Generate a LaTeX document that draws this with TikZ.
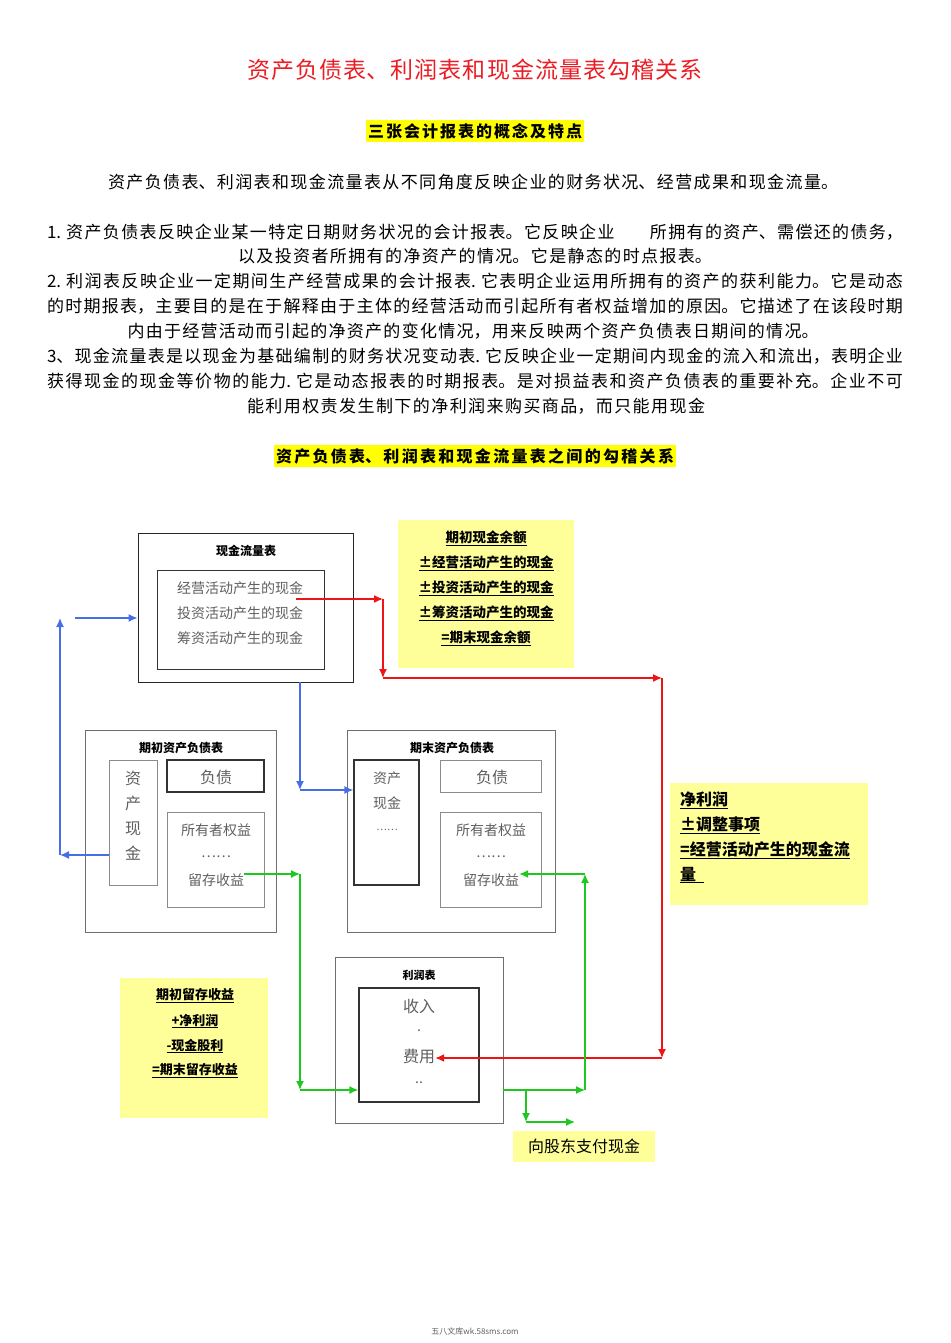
\documentclass[tikz,border=0pt]{standalone}
\usepackage{fontspec}
\setmainfont{Noto Sans CJK SC}
\usetikzlibrary{arrows.meta,positioning}
\XeTeXlinebreaklocale "zh"
\XeTeXlinebreakskip=0pt plus 1fil

\definecolor{titlered}{RGB}{236,28,36}
\definecolor{hiyellow}{RGB}{255,255,0}
\definecolor{paleyellow}{RGB}{255,255,153}
\definecolor{arrred}{RGB}{238,20,20}
\definecolor{arrblue}{RGB}{70,110,230}
\definecolor{arrgreen}{RGB}{30,200,30}
\definecolor{boxgray}{RGB}{110,110,110}
\definecolor{textgray}{RGB}{95,95,95}

% one line of text, spread to a given width
\newcommand{\spreadline}[2]{\parbox{#1}{\parfillskip=0pt\relax\noindent #2}}
\newcommand{\fullline}[1]{\spreadline{856pt}{#1}}

\tikzset{
  bodytext/.style={inner sep=0pt, font=\fontsize{17}{17}\selectfont},
  headmark/.style={fill=hiyellow, inner xsep=2pt, inner ysep=3pt, font=\fontsize{16}{16}\selectfont\bfseries},
  outerbox/.style={draw=boxgray, line width=0.8pt, inner sep=0pt},
  innerbox/.style={draw=black!80, line width=1.2pt, inner sep=0pt},
  lightbox/.style={draw=boxgray!80, line width=0.8pt, inner sep=0pt},
  notebox/.style={fill=paleyellow, inner sep=0pt},
  boxtitle/.style={inner sep=0pt, font=\fontsize{12}{12}\selectfont\bfseries},
  graytext/.style={inner sep=0pt, text=textgray, font=\fontsize{14}{14}\selectfont},
  notetext/.style={inner sep=0pt, font=\fontsize{13.5}{13.5}\selectfont\bfseries},
  flow/.style={line width=1.4pt, -{Latex[length=9pt,width=8pt]}},
  redline/.style={flow, draw=arrred},
  blueline/.style={flow, draw=arrblue},
  greenline/.style={flow, draw=arrgreen}
}

\begin{document}
\begin{tikzpicture}[x=1pt,y=-1pt]
\useasboundingbox (0,0) rectangle (950,1343);

% heading and text
\node[inner sep=0pt, text=titlered, font=\fontsize{23}{23}\selectfont] (title) at (475,70) {\spreadline{455pt}{资产负债表、利润表和现金流量表勾稽关系}};
\node[headmark] (head1) at (475,131) {\spreadline{214pt}{三张会计报表的概念及特点}};
\node[bodytext] (intro) at (473,182) {\spreadline{730pt}{资产负债表、利润表和现金流量表从不同角度反映企业的财务状况、经营成果和现金流量。}};
\node[bodytext] (p1a) at (475,232) {\fullline{1. 资产负债表反映企业某一特定日期财务状况的会计报表。它反映企业　　所拥有的资产、需偿还的债务，}};
\node[bodytext] (p1b) at (475,256) {\spreadline{474pt}{以及投资者所拥有的净资产的情况。它是静态的时点报表。}};
\node[bodytext] (p2a) at (475,281) {\fullline{2. 利润表反映企业一定期间生产经营成果的会计报表. 它表明企业运用所拥有的资产的获利能力。它是动态}};
\node[bodytext] (p2b) at (475,306) {\fullline{的时期报表，主要目的是在于解释由于主体的经营活动而引起所有者权益增加的原因。它描述了在该段时期}};
\node[bodytext] (p2c) at (473,331) {\spreadline{691pt}{内由于经营活动而引起的净资产的变化情况，用来反映两个资产负债表日期间的情况。}};
\node[bodytext] (p3a) at (475,356) {\fullline{3、现金流量表是以现金为基础编制的财务状况变动表. 它反映企业一定期间内现金的流入和流出，表明企业}};
\node[bodytext] (p3b) at (475,381) {\fullline{获得现金的现金等价物的能力. 它是动态报表的时期报表。是对损益表和资产负债表的重要补充。企业不可}};
\node[bodytext] (p3c) at (476,406) {\spreadline{458pt}{能利用权责发生制下的净利润来购买商品，而只能用现金}};
\node[headmark] (head2) at (475,456) {\spreadline{398pt}{资产负债表、利润表和现金流量表之间的勾稽关系}};

% cash flow statement
\node[outerbox, draw=black!85, minimum width=215, minimum height=149] (cfbox) at (245.5,607.5) {};
\node[boxtitle] (cftitle) at (246,551) {现金流量表};
\node[innerbox, line width=1pt, minimum width=167, minimum height=99] (cfinner) at (240.5,619.5) {};
\node[graytext] (cfop) at (240,588) {经营活动产生的现金};
\node[graytext] (cfinv) at (240,613) {投资活动产生的现金};
\node[graytext] (cffin) at (240,638) {筹资活动产生的现金};

% cash balance note
\node[notebox, minimum width=176, minimum height=148] (cashnote) at (486,594) {};
\node[notetext] (cn1) at (486,538) {\underline{期初现金余额}};
\node[notetext] (cn2) at (486,563) {\underline{±经营活动产生的现金}};
\node[notetext] (cn3) at (486,588) {\underline{±投资活动产生的现金}};
\node[notetext] (cn4) at (486,613) {\underline{±筹资活动产生的现金}};
\node[notetext] (cn5) at (486,638) {\underline{=期末现金余额}};

% opening balance sheet
\node[outerbox, minimum width=191, minimum height=202] (bsl) at (180.5,831) {};
\node[boxtitle] (bsltitle) at (181,748) {期初资产负债表};
\node[lightbox, minimum width=48, minimum height=125] (bslasset) at (133,822.5) {};
\node[innerbox, minimum width=97, minimum height=32] (bslliab) at (215.5,776) {};
\node[lightbox, minimum width=97, minimum height=95] (bslequity) at (215.5,859.5) {};
\node[graytext, font=\fontsize{16}{16}\selectfont] at (133,778) {资};
\node[graytext, font=\fontsize{16}{16}\selectfont] at (133,803) {产};
\node[graytext, font=\fontsize{16}{16}\selectfont] at (133,829) {现};
\node[graytext, font=\fontsize{16}{16}\selectfont] (bslcash) at (133,853) {金};
\node[graytext, font=\fontsize{16}{16}\selectfont] at (216,777) {负债};
\node[graytext] at (216,830) {所有者权益};
\node[graytext] at (216,857) {……};
\node[graytext] (bslre) at (216,880) {留存收益};

% closing balance sheet
\node[outerbox, minimum width=208, minimum height=202] (bsr) at (451,831) {};
\node[boxtitle] (bsrtitle) at (452,748) {期末资产负债表};
\node[innerbox, minimum width=65, minimum height=125] (bsrasset) at (386.5,822.5) {};
\node[lightbox, minimum width=101, minimum height=32] (bsrliab) at (490.5,776) {};
\node[lightbox, minimum width=101, minimum height=95] (bsrequity) at (490.5,859.5) {};
\node[graytext] (bsrcash) at (387,778) {资产};
\node[graytext] at (387,803) {现金};
\node[graytext, font=\fontsize{10}{10}\selectfont] at (387,830) {……};
\node[graytext, font=\fontsize{16}{16}\selectfont] at (492,777) {负债};
\node[graytext] at (491,830) {所有者权益};
\node[graytext] at (491,857) {……};
\node[graytext] (bsrre) at (491,880) {留存收益};

% net profit note
\node[notebox, minimum width=198, minimum height=122] (profitnote) at (769,844) {};
\node[notetext, anchor=west, font=\fontsize{16}{16}\selectfont\bfseries] at (680,800) {\underline{净利润}};
\node[notetext, anchor=west, font=\fontsize{16}{16}\selectfont\bfseries] at (680,825) {\underline{±调整事项}};
\node[notetext, anchor=west, font=\fontsize{16}{16}\selectfont\bfseries] at (680,850) {\underline{=经营活动产生的现金流}};
\node[notetext, anchor=west, font=\fontsize{16}{16}\selectfont\bfseries] at (680,875) {\underline{量\ \ }};

% income statement
\node[outerbox, minimum width=168, minimum height=166] (isbox) at (419,1040) {};
\node[boxtitle, font=\fontsize{11}{11}\selectfont\bfseries] (istitle) at (419,975) {利润表};
\node[innerbox, minimum width=120, minimum height=114] (isinner) at (419,1045) {};
\node[graytext, font=\fontsize{16}{16}\selectfont] (isrev) at (419,1006) {收入};
\node[graytext] at (419,1031) {.};
\node[graytext, font=\fontsize{16}{16}\selectfont] (isexp) at (419,1056) {费用};
\node[graytext] at (419,1083) {..};

% retained earnings note
\node[notebox, minimum width=148, minimum height=140] (renote) at (194,1048) {};
\node[notetext, font=\fontsize{13}{13}\selectfont\bfseries] at (195,996) {\underline{期初留存收益}};
\node[notetext, font=\fontsize{13}{13}\selectfont\bfseries] at (195,1021) {\underline{+净利润}};
\node[notetext, font=\fontsize{13}{13}\selectfont\bfseries] at (195,1046) {\underline{-现金股利}};
\node[notetext, font=\fontsize{13}{13}\selectfont\bfseries] at (195,1071) {\underline{=期末留存收益}};

% dividends
\node[notebox, minimum width=142, minimum height=31, font=\fontsize{16}{16}\selectfont] (divnote) at (584,1146.5) {向股东支付现金};

% corner points
\coordinate (opend) at (296,599);
\coordinate (r1) at (383,599);
\coordinate (r2) at (383,678);
\coordinate (r3) at (662,678);
\coordinate (r4) at (662,1058);
\coordinate (b1) at (300,790);
\coordinate (b3) at (60,855);
\coordinate (b4) at (60,618);
\coordinate (b5) at (75,618);
\coordinate (g1) at (300,874);
\coordinate (g2) at (300,1090);
\coordinate (g4) at (585,1090);
\coordinate (g5) at (585,874);
\coordinate (g6) at (526,1090);
\coordinate (g7) at (526,1122);
\coordinate (g8) at (575,1122);

% red: operating cash flow to net profit
\draw[redline] (opend) -- (r1);
\draw[redline] (r1) -- (r2);
\draw[redline] (r2) -- (r3);
\draw[redline] (r3) -- (r4);
\draw[redline] (r4) -- (isexp.east |- r4);

% blue: cash
\draw[blueline] (cfbox.south -| b1) -- (b1);
\draw[blueline] (b1) -- (bsrasset.west |- b1);
\draw[blueline] (bslasset.west |- b3) -- (b3);
\draw[blueline] (b3) -- (b4);
\draw[blueline] (b5) -- (cfbox.west |- b5);

% green: retained earnings
\draw[greenline] (bslre.east |- g1) -- (g1);
\draw[greenline] (g1) -- (g2);
\draw[greenline] (g2) -- (isinner.west |- g2);
\draw[greenline] (isbox.east |- g4) -- (g4);
\draw[greenline] (g4) -- (g5);
\draw[greenline] (g5) -- (bsrre.east |- g5);
\draw[greenline] (g6) -- (g7);
\draw[greenline] (g7) -- (g8);

% footer
\node[inner sep=0pt, text=textgray, font=\fontsize{8}{8}\selectfont] (footer) at (475,1331) {五八文库wk.58sms.com};
\end{tikzpicture}
\end{document}
